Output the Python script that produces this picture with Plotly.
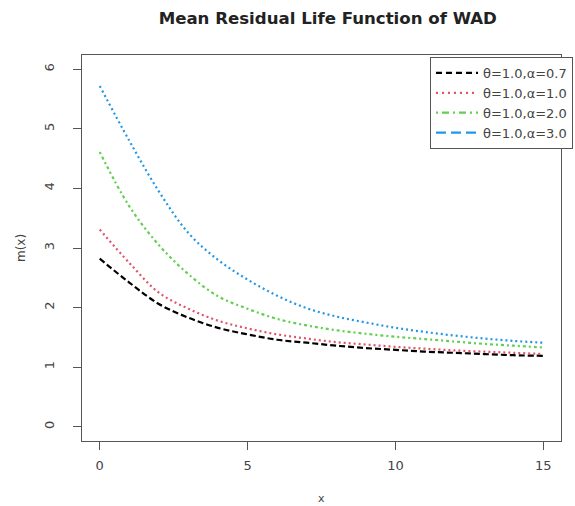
import plotly.graph_objects as go

x_vals = list(range(0, 16))
m_a07 = [2.82, 2.42, 2.06, 1.83, 1.66, 1.55, 1.46, 1.41, 1.36, 1.32, 1.29, 1.26, 1.24, 1.22, 1.20, 1.19]
m_a10 = [3.31, 2.75, 2.25, 1.98, 1.78, 1.65, 1.55, 1.48, 1.42, 1.38, 1.34, 1.31, 1.28, 1.26, 1.24, 1.22]
m_a20 = [4.61, 3.70, 3.05, 2.56, 2.19, 1.98, 1.81, 1.70, 1.62, 1.56, 1.51, 1.47, 1.43, 1.39, 1.36, 1.33]
m_a30 = [5.72, 4.80, 3.95, 3.25, 2.80, 2.47, 2.20, 1.99, 1.85, 1.75, 1.66, 1.59, 1.53, 1.48, 1.44, 1.41]

names = ["θ=1.0,α=0.7", "θ=1.0,α=1.0", "θ=1.0,α=2.0", "θ=1.0,α=3.0"]
colors = ["#000000", "#DF536B", "#61D04F", "#2297E6"]
plot_dash = ["6px,3px", "2px,3px", "2px,3px,3px,3px", "2px,3px"]
legend_dash = ["6px,4px", "2px,4px", "2px,4px,7px,4px", "10px,5px"]
series = [m_a07, m_a10, m_a20, m_a30]

fig = go.Figure()
for s, c, d in zip(series, colors, plot_dash):
    fig.add_trace(go.Scatter(x=x_vals, y=s, mode="lines", showlegend=False,
                             line=dict(color=c, width=2.2, dash=d, shape="spline")))
for n, c, d in zip(names, colors, legend_dash):
    fig.add_trace(go.Scatter(x=[None], y=[None], mode="lines", name=n,
                             line=dict(color=c, width=2.2, dash=d)))

FONT = "DejaVu Sans"
axis_common = dict(showline=True, mirror=True, linecolor="#555", linewidth=1,
                   ticks="outside", ticklen=8, tickcolor="#555", showgrid=False,
                   zeroline=False, automargin=False,
                   tickfont=dict(size=13, color="#444", family=FONT))

fig.update_layout(
    width=575, height=506,
    margin=dict(l=82, r=14, t=55, b=65, autoexpand=False),
    paper_bgcolor="white", plot_bgcolor="white",
    font=dict(family=FONT, color="#333"),
    title=dict(text="<b>Mean Residual Life Function of WAD</b>", x=0.57, xanchor="center",
               y=0.965, yanchor="middle", font=dict(size=16.6, color="#222", family=FONT)),
    xaxis=dict(range=[-0.6, 15.6], tickvals=[0, 5, 10, 15], ticklabelstandoff=4, **axis_common),
    yaxis=dict(range=[-0.24, 6.24], tickvals=[0, 1, 2, 3, 4, 5, 6], tickangle=-90,
               ticklabelstandoff=14, **axis_common),
    legend=dict(x=1.025, xanchor="right", y=0.995, yanchor="top",
                bgcolor="white", bordercolor="#555", borderwidth=1,
                font=dict(size=13, color="#444", family=FONT), itemwidth=42, tracegroupgap=0),
    annotations=[
        dict(text="x", xref="paper", yref="paper", x=0.5, y=-57 / 386,
             xanchor="center", yanchor="middle", showarrow=False,
             font=dict(size=11, color="#444", family=FONT)),
        dict(text="m(x)", xref="paper", yref="paper", x=-(82 - 21) / 479, y=0.5,
             xanchor="center", yanchor="middle", textangle=-90, showarrow=False,
             font=dict(size=12, color="#444", family=FONT)),
    ],
)

fig.write_html("out.html")
